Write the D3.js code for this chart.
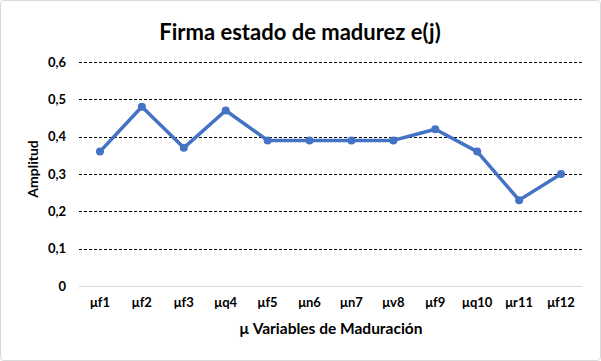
<!DOCTYPE html>
<html>
<head>
<meta charset="utf-8">
<script src="https://cdn.jsdelivr.net/npm/d3@7"></script>
<style>
  body { margin: 0; background: #fff; }
  svg { display: block; font-family: "Lato", "Open Sans", sans-serif; }
</style>
</head>
<body>
<div id="chart"></div>
<script>
const categories = ["μf1", "μf2", "μf3", "μq4", "μf5", "μn6", "μn7", "μv8", "μf9", "μq10", "μr11", "μf12"];
const amplitud = [0.36, 0.48, 0.37, 0.47, 0.39, 0.39, 0.39, 0.39, 0.42, 0.36, 0.23, 0.30];
const yTicks = [0, 0.1, 0.2, 0.3, 0.4, 0.5, 0.6];

const width = 601, height = 361;
const margin = { top: 62, right: 19, bottom: 75, left: 79 };

const svg = d3.select("#chart").append("svg")
  .attr("width", width)
  .attr("height", height);

svg.append("rect")
  .attr("x", 0.5).attr("y", 0.5)
  .attr("width", width - 1).attr("height", height - 1)
  .attr("rx", 3)
  .attr("fill", "#fff")
  .attr("stroke", "#d9d9d9");

const x = d3.scaleBand()
  .domain(categories)
  .range([margin.left, width - margin.right]);

const y = d3.scaleLinear()
  .domain([0, 0.6])
  .range([height - margin.bottom, margin.top]);

// gridlines
svg.append("g").selectAll("line")
  .data(yTicks.filter(d => d > 0))
  .enter().append("line")
  .attr("x1", margin.left)
  .attr("x2", width - margin.right)
  .attr("y1", d => Math.round(y(d)) + 0.5)
  .attr("y2", d => Math.round(y(d)) + 0.5)
  .attr("stroke", "#000")
  .attr("stroke-width", 1)
  .attr("stroke-dasharray", "3,2");

// baseline
svg.append("line")
  .attr("x1", margin.left)
  .attr("x2", width - margin.right)
  .attr("y1", Math.round(y(0)) + 0.5)
  .attr("y2", Math.round(y(0)) + 0.5)
  .attr("stroke", "#d9d9d9")
  .attr("stroke-width", 1);

// y tick labels
const fmt = d => d === 0 ? "0" : d3.format(".1f")(d).replace(".", ",");
svg.append("g").selectAll("text")
  .data(yTicks)
  .enter().append("text")
  .attr("x", margin.left - 13)
  .attr("y", d => y(d))
  .attr("dy", "0.35em")
  .attr("text-anchor", "end")
  .attr("font-size", 13)
  .attr("font-weight", "bold")
  .attr("fill", "#000")
  .text(fmt);

// x tick labels
svg.append("g").selectAll("text")
  .data(categories)
  .enter().append("text")
  .attr("x", d => x(d) + x.bandwidth() / 2)
  .attr("y", height - margin.bottom + 21)
  .attr("text-anchor", "middle")
  .attr("font-size", 13)
  .attr("font-weight", "bold")
  .attr("fill", "#000")
  .text(d => d);

// line
const line = d3.line()
  .x((d, i) => x(categories[i]) + x.bandwidth() / 2)
  .y(d => y(d));

svg.append("path")
  .datum(amplitud)
  .attr("d", line)
  .attr("fill", "none")
  .attr("stroke", "#4472C4")
  .attr("stroke-width", 3.5)
  .attr("stroke-linejoin", "round")
  .attr("stroke-linecap", "round");

svg.append("g").selectAll("circle")
  .data(amplitud)
  .enter().append("circle")
  .attr("cx", (d, i) => x(categories[i]) + x.bandwidth() / 2)
  .attr("cy", d => y(d))
  .attr("r", 4)
  .attr("fill", "#4472C4");

// title
svg.append("text")
  .attr("x", 300)
  .attr("y", 40)
  .attr("text-anchor", "middle")
  .attr("font-size", 22)
  .attr("font-weight", "bold")
  .attr("fill", "#000")
  .text("Firma estado de madurez e(j)");

// axis titles
svg.append("text")
  .attr("x", 331)
  .attr("y", 334)
  .attr("text-anchor", "middle")
  .attr("font-size", 15.5)
  .attr("font-weight", "bold")
  .attr("fill", "#000")
  .text("μ Variables de Maduración");

svg.append("text")
  .attr("transform", "translate(38,169) rotate(-90)")
  .attr("text-anchor", "middle")
  .attr("font-size", 14)
  .attr("font-weight", "bold")
  .attr("fill", "#000")
  .text("Amplitud");
</script>
</body>
</html>
